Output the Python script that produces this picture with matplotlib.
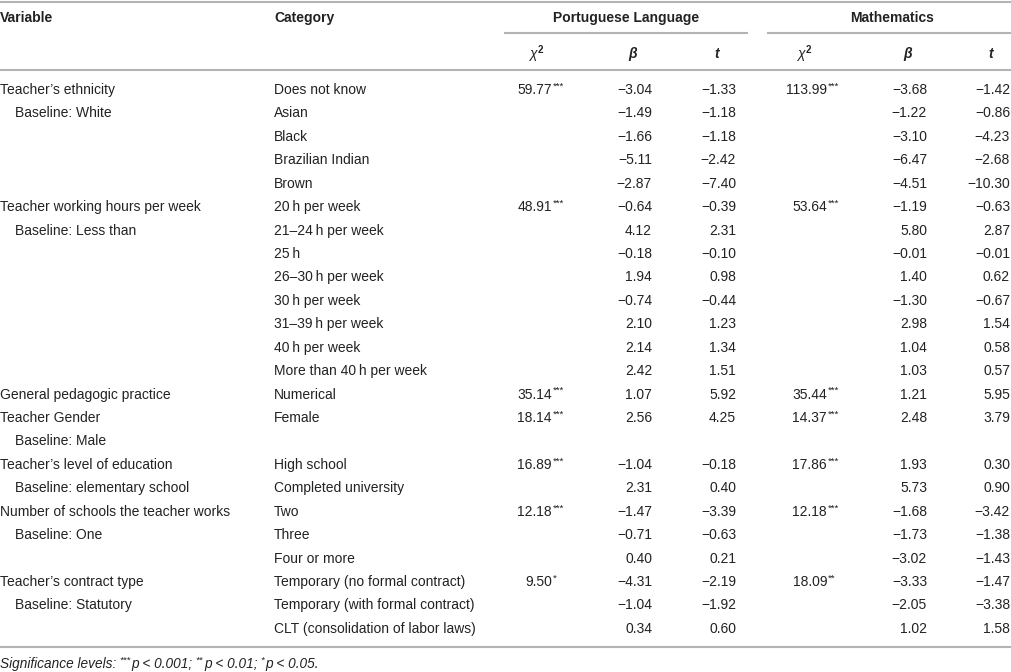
import matplotlib
matplotlib.use('Agg')
import matplotlib.pyplot as plt

plt.rcParams['font.family'] = ['Liberation Sans', 'DejaVu Sans']
plt.rcParams['mathtext.fontset'] = 'custom'
plt.rcParams['mathtext.rm'] = 'Liberation Sans'
plt.rcParams['mathtext.it'] = 'Liberation Sans:italic'
plt.rcParams['mathtext.bf'] = 'Liberation Sans:bold'

# table contents, one entry per row
variables = ["Teacher\u2019s ethnicity", "Baseline: White", "", "", "",
             "Teacher working hours per week", "Baseline: Less than", "", "", "", "", "", "",
             "General pedagogic practice",
             "Teacher Gender", "Baseline: Male",
             "Teacher\u2019s level of education", "Baseline: elementary school",
             "Number of schools the teacher works", "Baseline: One", "",
             "Teacher\u2019s contract type", "Baseline: Statutory", ""]
categories = ["Does not know", "Asian", "Black", "Brazilian Indian", "Brown",
              "20\u2009h per week", "21\u201324\u2009h per week", "25\u2009h",
              "26\u201330\u2009h per week", "30\u2009h per week", "31\u201339\u2009h per week",
              "40\u2009h per week", "More than 40\u2009h per week",
              "Numerical", "Female", "", "High school", "Completed university",
              "Two", "Three", "Four or more",
              "Temporary (no formal contract)", "Temporary (with formal contract)",
              "CLT (consolidation of labor laws)"]

# chi-square values: (row, value, stars)
port_chi = [(0, 59.77, "***"), (5, 48.91, "***"), (13, 35.14, "***"), (14, 18.14, "***"),
            (16, 16.89, "***"), (18, 12.18, "***"), (21, 9.50, "*")]
math_chi = [(0, 113.99, "***"), (5, 53.64, "***"), (13, 35.44, "***"), (14, 14.37, "***"),
            (16, 17.86, "***"), (18, 12.18, "***"), (21, 18.09, "**")]

port_beta = [-3.04, -1.49, -1.66, -5.11, -2.87, -0.64, 4.12, -0.18, 1.94, -0.74, 2.10, 2.14,
             2.42, 1.07, 2.56, None, -1.04, 2.31, -1.47, -0.71, 0.40, -4.31, -1.04, 0.34]
port_t = [-1.33, -1.18, -1.18, -2.42, -7.40, -0.39, 2.31, -0.10, 0.98, -0.44, 1.23, 1.34,
          1.51, 5.92, 4.25, None, -0.18, 0.40, -3.39, -0.63, 0.21, -2.19, -1.92, 0.60]
math_beta = [-3.68, -1.22, -3.10, -6.47, -4.51, -1.19, 5.80, -0.01, 1.40, -1.30, 2.98, 1.04,
             1.03, 1.21, 2.48, None, 1.93, 5.73, -1.68, -1.73, -3.02, -3.33, -2.05, 1.02]
math_t = [-1.42, -0.86, -4.23, -2.68, -10.30, -0.63, 2.87, -0.01, 0.62, -0.67, 1.54, 0.58,
          0.57, 5.95, 3.79, None, 0.30, 0.90, -3.42, -1.38, -1.43, -1.47, -3.38, 1.58]

footnote = [("Significance levels: ", False), ("***", True), ("p < 0.001; ", False),
            ("**", True), ("p < 0.01; ", False), ("*", True), ("p < 0.05.", False)]


def fmt(v):
    return f"{v:.2f}".replace("-", "\u2212")


fig = plt.figure(figsize=(10.11, 6.72), dpi=100)
ax = fig.add_axes([0, 0, 1, 1])
ax.set_xlim(0, 1011)
ax.set_ylim(672, 0)
ax.axis('off')

fs = 10.0
col = '#222222'
line_col = '#b4b4b4'

# rules
ax.plot([0, 1011], [2, 2], color=line_col, lw=1.5)
ax.plot([0, 1011], [70, 70], color=line_col, lw=1.5)
ax.plot([505, 747], [33, 33], color=line_col, lw=1.5)
ax.plot([768, 1011], [33, 33], color=line_col, lw=1.5)
ax.plot([0, 1011], [647, 647], color=line_col, lw=1.5)

# header
ax.text(0, 18, "Variable", fontsize=fs, weight='bold', color=col, va='center')
ax.text(274, 18, "Category", fontsize=fs, weight='bold', color=col, va='center')
ax.text(626, 18, "Portuguese Language", fontsize=fs, weight='bold', color=col, va='center', ha='center')
ax.text(892, 18, "Mathematics", fontsize=fs, weight='bold', color=col, va='center', ha='center')
for cx, cb, ct in [(536, 633, 717), (804, 908, 991)]:
    ax.text(cx, 54, r"$\chi^{\mathbf{2}}$", fontsize=fs, color=col, va='center', ha='center')
    ax.text(cb, 54, "\u03b2", fontsize=fs, style='italic', weight='bold', color=col, va='center', ha='center')
    ax.text(ct, 54, "t", fontsize=fs, style='italic', weight='bold', color=col, va='center', ha='center')

y0 = 90
dy = 23.43
for i in range(len(categories)):
    y = y0 + i * dy
    v = variables[i]
    if v:
        x = 15 if v.startswith("Baseline") else 0
        ax.text(x, y, v, fontsize=fs, color=col, va='center')
    if categories[i]:
        ax.text(274, y, categories[i], fontsize=fs, color=col, va='center')
    for vals, xr in [(port_beta, 652), (port_t, 736), (math_beta, 927), (math_t, 1010)]:
        if vals[i] is not None:
            ax.text(xr, y, fmt(vals[i]), fontsize=fs, color=col, va='center', ha='right')

for chi, xr in [(port_chi, 552), (math_chi, 827)]:
    for r, v, stars in chi:
        y = y0 + r * dy
        ax.text(xr, y, fmt(v), fontsize=fs, color=col, va='center', ha='right')
        ax.text(xr + 1, y - 4, stars, fontsize=6.8, color=col, va='center', ha='left')

# footnote, drawn piece by piece so the stars can sit raised
renderer = fig.canvas.get_renderer()
x = 0
for piece, sup in footnote:
    if sup:
        t = ax.text(x, 660, piece, fontsize=6.8, style='italic', color=col, va='center')
    else:
        t = ax.text(x, 664, piece.rstrip(), fontsize=9.8, style='italic', color=col, va='center')
    x += t.get_window_extent(renderer).width
    if piece.endswith(" "):
        x += 3
    if sup:
        x += 1

fig.savefig("out.png", dpi=100)
